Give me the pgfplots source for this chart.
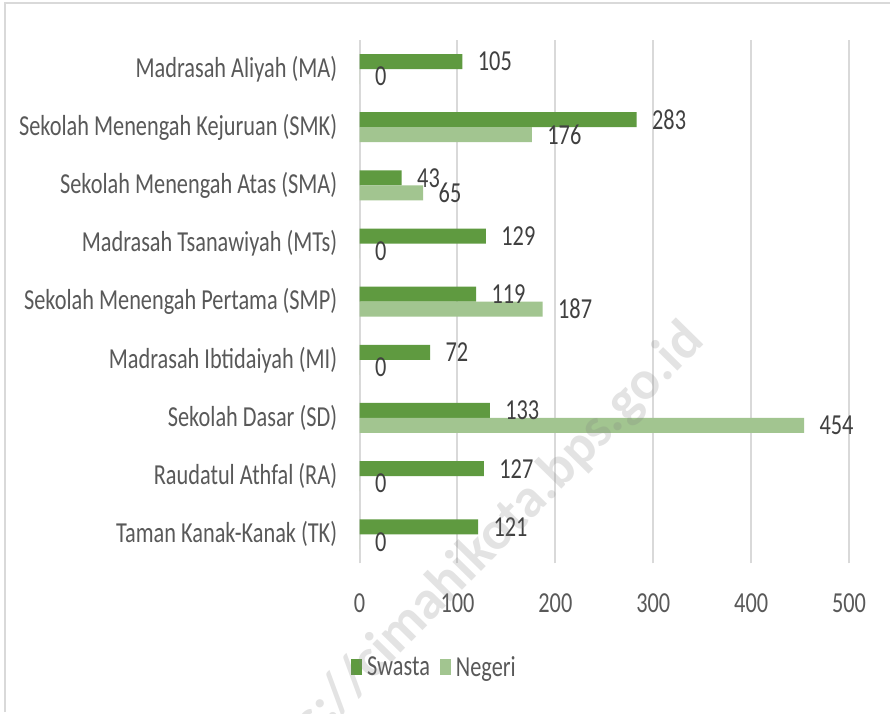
\documentclass[border=0pt]{standalone}
\usepackage{fontspec}
\setmainfont{Carlito}[FakeStretch=0.77]
\newfontfamily\wmfont{Carlito}
\usepackage{pgfplots}
\usepackage{pgfplotstable}
\pgfplotsset{compat=1.18}

\definecolor{swasta}{HTML}{5F9A40}
\definecolor{negeri}{HTML}{A2C590}
\definecolor{gridgray}{HTML}{D9D9D9}
\definecolor{txt}{HTML}{595959}
\definecolor{lbl}{HTML}{404040}

\newcommand{\bigfont}{\fontsize{29}{34}\selectfont}

% y: 0 = TK ... 8 = MA
\pgfplotstableread{
y x
0 121
1 127
2 133
3 72
4 119
5 129
6 43
7 283
8 105
}\swasta
\pgfplotstableread{
y x
0 0
1 0
2 454
3 0
4 187
5 0
6 65
7 176
8 0
}\negeri

\begin{document}
\begin{tikzpicture}[x=1pt,y=1pt]
\fill[white] (0,0) rectangle (891,713);
\draw[line width=2pt, gridgray] (5,0) -- (5,710) -- (891,710);

\begin{axis}[
    at={(360pt,149pt)}, anchor=south west,
    scale only axis, width=490pt, height=524pt,
    xbar, bar width=15pt,
    xmin=0, xmax=500, ymin=-0.5, ymax=8.5,
    xtick={0,100,...,500}, ytick={0,...,8},
    yticklabels={Taman Kanak-Kanak (TK), Raudatul Athfal (RA), Sekolah Dasar (SD),
        Madrasah Ibtidaiyah (MI), Sekolah Menengah Pertama (SMP),
        Madrasah Tsanawiyah (MTs), Sekolah Menengah Atas (SMA),
        Sekolah Menengah Kejuruan (SMK), Madrasah Aliyah (MA)},
    xmajorgrids, grid style={gridgray, line width=2pt},
    axis line style={draw=none}, major tick length=0pt,
    /pgf/number format/assume math mode=true,
    xticklabel style={anchor=center, yshift=-40pt, font=\bigfont, text=txt},
    yticklabel style={anchor=east, xshift=-19pt, font=\bigfont, text=txt},
    nodes near coords,
    every node near coord/.append style={anchor=west, xshift=12pt, font=\bigfont, text=lbl},
    legend style={at={(axis description cs:0.153,-0.1985)}, anchor=center,
        draw=none, fill=none, legend columns=2, font=\bigfont, text=txt,
        /tikz/every odd column/.append style={column sep=3pt},
        /tikz/every even column/.append style={column sep=8pt}},
    legend image code/.code={\fill[#1] (0pt,-8pt) rectangle (11pt,8pt);},
]
\addplot[fill=swasta, draw=none, bar shift=7.5pt] table[x=x, y=y] {\swasta};
\addlegendentry{Swasta}
\addplot[fill=negeri, draw=none, bar shift=-7.5pt] table[x=x, y=y] {\negeri};
\addlegendentry{Negeri}
\end{axis}

% watermark, kept out of the bounding box
\node[overlay, rotate=45.5, anchor=east, inner sep=0pt, text=gray, opacity=0.22,
    font=\wmfont\bfseries\fontsize{55}{60}\selectfont] at (696,380)
    {https://cimahikota.bps.go.id};
\end{tikzpicture}
\end{document}
